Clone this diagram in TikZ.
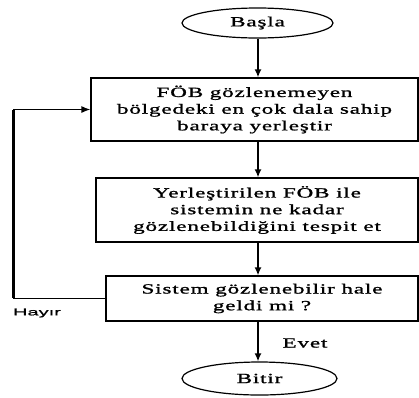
\documentclass[tikz,border=0pt]{standalone}
\usepackage{fontspec}
\setmainfont{Liberation Serif}[FakeStretch=1.65,LetterSpace=6,FakeBold=1.2]
\newfontfamily\hayirfont{Liberation Sans}[FakeStretch=2,FakeBold=1]
\usetikzlibrary{arrows.meta,shapes.geometric}
\begin{document}
\begin{tikzpicture}[x=1pt,y=-1pt,
  box/.style={draw,line width=1.2pt,inner sep=0pt,align=center,font=\fontsize{14}{16.7}\selectfont},
  term/.style={draw,ellipse,line width=1.2pt,inner sep=0pt,font=\fontsize{14}{16.7}\selectfont},
  arr/.style={line width=1.8pt,-{Latex[length=8pt,width=7pt]}},
  lbl/.style={font=\fontsize{14}{16.7}\selectfont}]
\useasboundingbox (0,0) rectangle (419,397);
\node[term,minimum width=151pt,minimum height=30pt] (basla) at (257.5,23) {Başla};
\node[box,minimum width=327pt,minimum height=63pt] (b1) at (254.5,109.5) {FÖB gözlenemeyen\\bölgedeki en çok dala sahip\\baraya yerleştir};
\node[box,minimum width=322pt,minimum height=64pt] (b2) at (257,210) {Yerleştirilen FÖB ile\\sistemin ne kadar\\gözlenebildiğini tespit et};
\node[box,minimum width=312pt,minimum height=45pt] (b3) at (262,298.5) {Sistem gözlenebilir hale\\geldi mi ?};
\node[term,minimum width=155pt,minimum height=33pt] (bitir) at (259.5,378.5) {Bitir};
\node[lbl] (evet) at (305,343) {Evet};
\node[font=\hayirfont\fontsize{10}{12}\selectfont] (hayir) at (37,313) {Hayır};
\coordinate (a1) at (258,0);
\draw[arr] (basla.south -| a1) -- (b1.north -| a1);
\draw[arr] (b1.south -| a1) -- (b2.north -| a1);
\draw[arr] (b2.south -| a1) -- (b3.north -| a1);
\draw[arr] (b3.south -| a1) -- (bitir.north -| a1);
\coordinate (lb) at (13,298.5);
\coordinate (lt) at (13,109.5);
\draw[line width=1.2pt] (b3.west) -- (lb);
\draw[line width=3pt] ([yshift=0.6pt]lb) -- ([yshift=-0.6pt]lt);
\draw[line width=1.2pt,-{Latex[length=9pt,width=7pt]}] (lt) -- (b1.west);
\end{tikzpicture}
\end{document}
